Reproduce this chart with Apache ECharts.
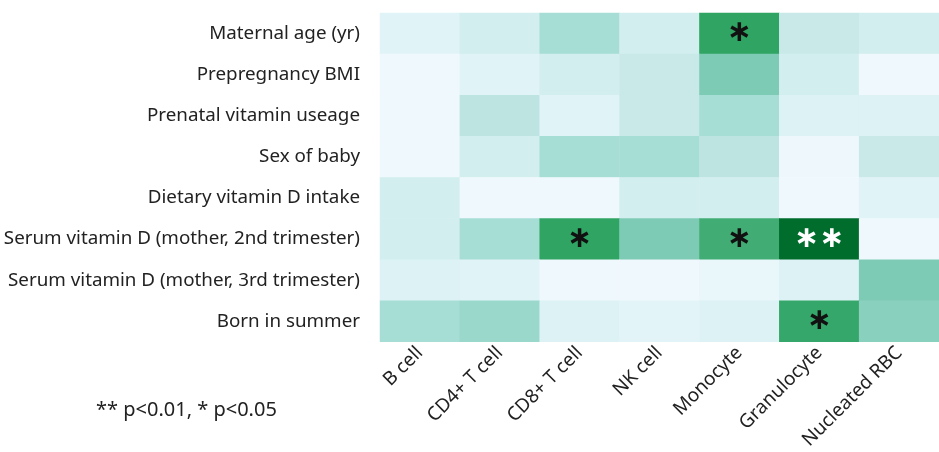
<!DOCTYPE html>
<html>
<head>
<meta charset="utf-8">
<script src="https://cdn.jsdelivr.net/npm/echarts@6/dist/echarts.min.js"></script>
<style>
  html, body { margin: 0; padding: 0; background: #fff; }
  #chart { width: 939px; height: 452px; }
</style>
</head>
<body>
<div id="chart"></div>
<script>
// cell types (columns)
const cellTypes = ["B cell", "CD4+ T cell", "CD8+ T cell", "NK cell", "Monocyte", "Granulocyte", "Nucleated RBC"];
// covariates (rows, top to bottom)
const covariates = [
  "Maternal age (yr)",
  "Prepregnancy BMI",
  "Prenatal vitamin useage",
  "Sex of baby",
  "Dietary vitamin D intake",
  "Serum vitamin D (mother, 2nd trimester)",
  "Serum vitamin D (mother, 3rd trimester)",
  "Born in summer",
];
// association strength per row (read from shading, 0 = weakest)
const maternalAge = [1, 2, 4, 2, 7, 2.5, 2];
const prepregBMI = [0, 1, 2, 2.5, 5, 2, 0];
const prenatalVit = [0, 3, 1, 2.5, 4, 1.3, 1.3];
const sexOfBaby = [0, 2, 4, 4, 3, 0.1, 2.5];
const dietaryVitD = [2, 0, 0, 2, 2, 0, 1];
const serum2nd = [2, 4, 7, 5, 6.5, 9, 0];
const serum3rd = [1.3, 1, 0, 0, 0.4, 1.3, 5];
const bornSummer = [4, 4.3, 1.3, 0.8, 1.2, 6.8, 4.7];
const rows = [maternalAge, prepregBMI, prenatalVit, sexOfBaby, dietaryVitD, serum2nd, serum3rd, bornSummer];
// significance marks: [column, row, mark]
const marks = [
  [4, 0, "*"],
  [2, 5, "*"],
  [4, 5, "*"],
  [5, 5, "**"],
  [5, 7, "*"],
];

const data = [];
rows.forEach((vals, r) => {
  vals.forEach((v, c) => data.push([c, r, v]));
});
function markOf(c, r) {
  const m = marks.find((d) => d[0] === c && d[1] === r);
  return m ? m[2] : "";
}

const myChart = echarts.init(document.getElementById("chart"));
const option = {
  backgroundColor: "#fff",
  animation: false,
  grid: { left: 380, top: 13, right: 0, bottom: 110 },
  xAxis: {
    type: "category",
    data: cellTypes,
    axisLine: { show: false },
    axisTick: { show: false },
    splitLine: { show: false },
    axisLabel: {
      rotate: 45,
      margin: 8,
      interval: 0,
      color: "#222",
      fontSize: 19,
      fontFamily: "Noto Sans",
    },
  },
  yAxis: {
    type: "category",
    data: covariates,
    inverse: true,
    axisLine: { show: false },
    axisTick: { show: false },
    splitLine: { show: false },
    axisLabel: {
      margin: 20,
      color: "#222",
      fontSize: 18.8,
      fontFamily: "Noto Sans",
    },
  },
  visualMap: {
    show: false,
    min: 0,
    max: 9,
    dimension: 2,
    inRange: {
      color: ["#eff8fc", "#e0f3f7", "#d2eeee", "#bde4e1", "#a6ddd5", "#7ecbb5", "#52b585", "#2fa463", "#178a47", "#006d2c"],
    },
  },
  series: [
    {
      type: "heatmap",
      itemStyle: { borderWidth: 0 },
      label: {
        show: true,
        fontSize: 30,
        fontWeight: "bold",
        fontFamily: "DejaVu Sans",
        formatter: (p) => markOf(p.value[0], p.value[1]).replace(/\*/g, "\u2217"),
        color: "#111",
      },
      emphasis: { disabled: true },
      // white marks on the darkest cell
      data: data.map((d) => {
        if (markOf(d[0], d[1]) === "**") {
          return { value: d, label: { color: "#fff" } };
        }
        return d;
      }),
    },
  ],
  graphic: [
    {
      type: "text",
      left: 96,
      top: 400,
      style: {
        text: "** p<0.01, * p<0.05",
        fontSize: 20,
        fontFamily: "Noto Sans",
        fill: "#222",
      },
    },
  ],
};
option && myChart.setOption(option);
window.addEventListener("resize", () => {
  myChart.resize();
});
</script>
</body>
</html>
